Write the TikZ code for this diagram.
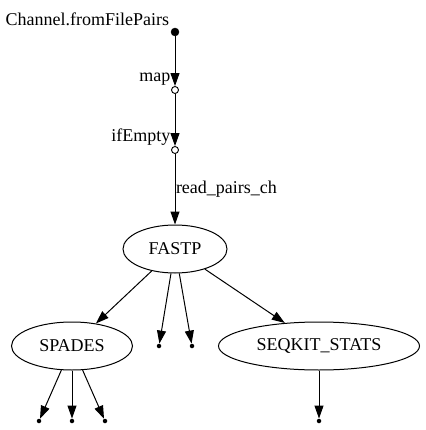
\documentclass[tikz,border=0pt]{standalone}
\usepackage{fontspec}
\setmainfont{Liberation Serif}
\usetikzlibrary{shapes.geometric, arrows.meta, positioning}
\tikzset{
    source/.style={
        circle, fill=black, draw=black, inner sep=0pt, minimum size=8pt
    },
    operator/.style={
        circle, draw=black, fill=white, line width=0.9pt, inner sep=0pt, minimum size=7pt
    },
    process/.style={
        ellipse, draw=black, line width=1pt, inner sep=0pt, minimum height=48pt,
        font=\fontsize{18}{20}\selectfont
    },
    sink/.style={
        circle, fill=black, inner sep=0pt, minimum size=4.5pt
    },
    arrow/.style={
        -{Triangle[length=13pt, width=9pt]}, line width=1pt
    },
    lbl/.style={
        font=\fontsize{18}{20}\selectfont, inner sep=0.5pt
    }
}

\begin{document}
\begin{tikzpicture}[x=1pt, y=-1pt]
    \useasboundingbox (0,0) rectangle (425,430);

    % ── Channel and operators ──
    \node[source, label={[lbl, label distance=3pt]north west:Channel.fromFilePairs}] (src) at (175,32) {};
    \node[operator, label={[lbl, label distance=1.5pt]north west:map}]               (map)     at (175,90)  {};
    \node[operator, label={[lbl, label distance=1.5pt]north west:ifEmpty}]           (ifempty) at (175,150) {};

    % ── Processes ──
    \node[process, minimum width=104pt]                           (fastp)   at (175,249) {FASTP};
    \node[process, minimum width=121pt]                           (spades)  at (72,346)  {SPADES};
    \node[process, minimum width=201pt]                           (seqkit)  at (319,346) {SEQKIT\_STATS};

    % ── Outputs ──
    \node[sink] (fastpA)  at (159,346) {};
    \node[sink] (fastpB)  at (192,346) {};
    \node[sink] (spadesA) at (39,421)  {};
    \node[sink] (spadesB) at (72,421)  {};
    \node[sink] (spadesC) at (105,421) {};
    \node[sink] (seqkitA) at (319,421) {};

    % ── Arrows ──
    \draw[arrow] (src)     -- (map);
    \draw[arrow] (map)     -- (ifempty);
    \draw[arrow] (ifempty) -- node[lbl, right] {read\_pairs\_ch} (fastp);
    \draw[arrow] (fastp)   -- (spades);
    \draw[arrow] (fastp)   -- (fastpA);
    \draw[arrow] (fastp)   -- (fastpB);
    \draw[arrow] (fastp)   -- (seqkit);
    \draw[arrow] (spades)  -- (spadesA);
    \draw[arrow] (spades)  -- (spadesB);
    \draw[arrow] (spades)  -- (spadesC);
    \draw[arrow] (seqkit)  -- (seqkitA);

\end{tikzpicture}
\end{document}
